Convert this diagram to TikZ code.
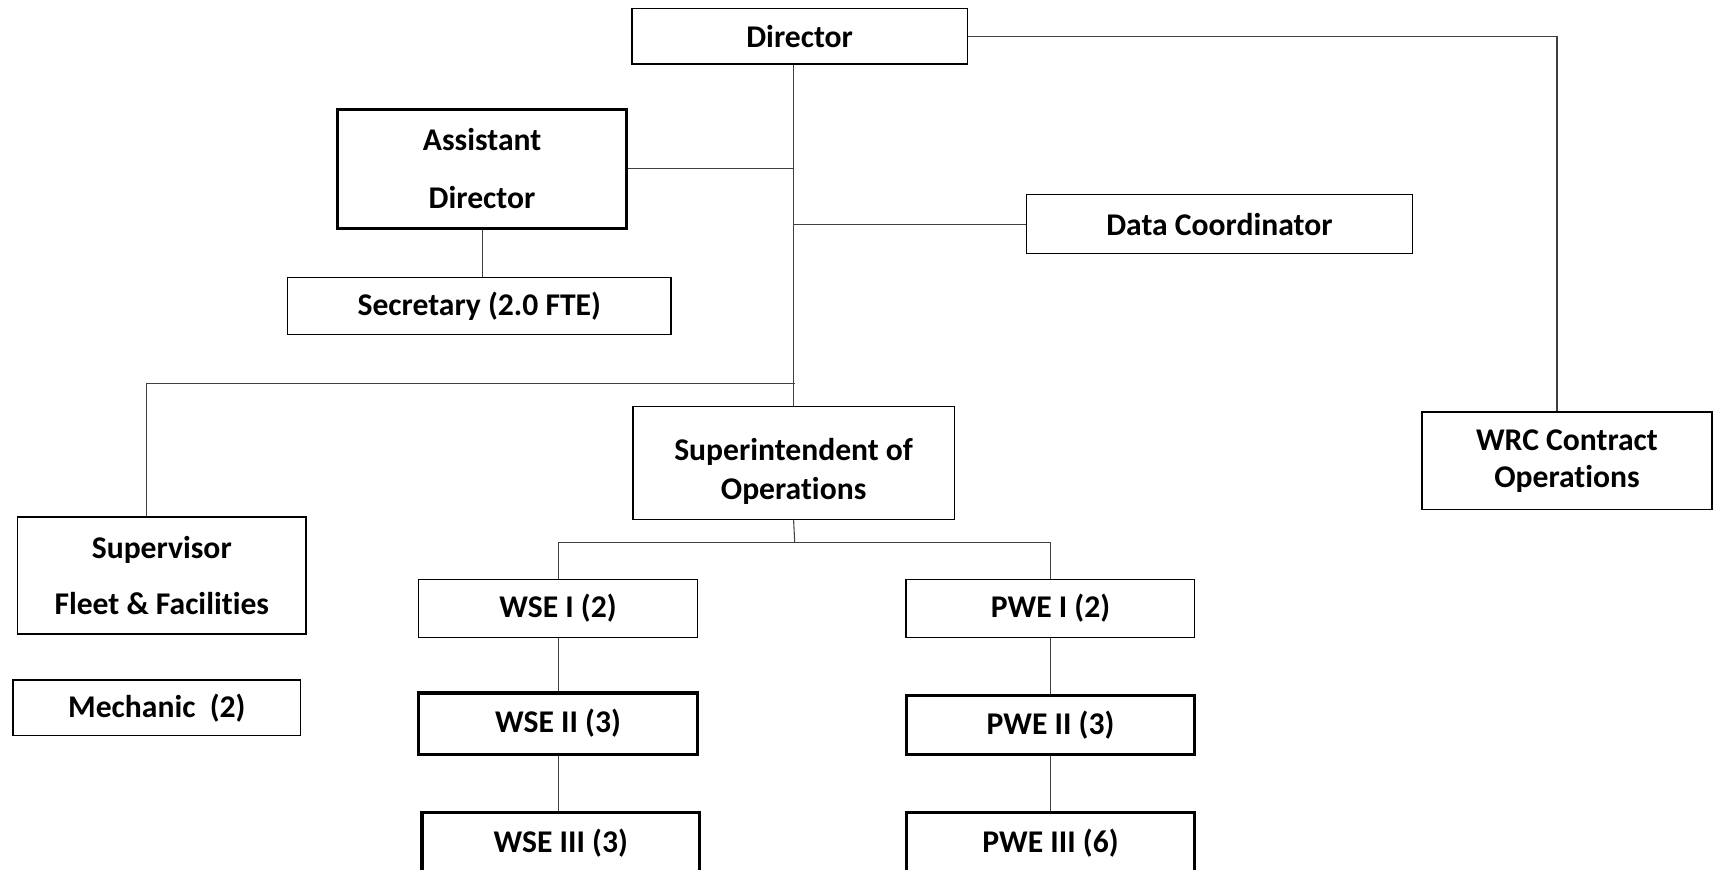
\documentclass[tikz,border=0pt]{standalone}
\usepackage{fontspec}
\setmainfont{Carlito}[Ligatures=NoCommon]
\newcommand\ux{0.021862cm}
\begin{document}
\begin{tikzpicture}[x=0.021862cm,y=-0.021862cm,
  txt/.style={inner sep=0pt, align=center,
    font=\fontsize{18}{22}\selectfont\bfseries},
  box/.style={txt, draw=black, line width=0.8pt},
  thickbox/.style={box, line width=1.8pt},
  sz/.style 2 args={minimum width={#1*\ux}, minimum height={#2*\ux}},
  link/.style={draw=black!75, line width=0.6pt}]
\useasboundingbox (0,0) rectangle (1568,795);
% nodes
\node[box, sz={307}{51}] (dir) at (731.5,33) {Director};
\node[thickbox, sz={264}{109}] (asst) at (441,154.5) {Assistant\\[11pt]Director};
\node[box, sz={351}{52}] (sec) at (438.5,280) {Secretary (2.0 FTE)};
\node[box, sz={353}{54}] (data) at (1115.5,205) {Data Coordinator};
\node[box, sz={294}{103}] (sup) at (726,423.5) {};
\node[txt] (suptxt) at ([yshift=-0.17cm]sup.center) {Superintendent of\\Operations};
\node[box, sz={265}{89}] (wrc) at (1433.5,421.5) {WRC Contract\\[-1pt]Operations};
\node[box, sz={264}{107}] (fleet) at (148,526.5) {Supervisor\\[10pt]Fleet \& Facilities};
\node[box, sz={263}{51}] (mech) at (143.5,647.5) {Mechanic~~(2)};
\node[box, sz={255}{53}] (wse1) at (510.5,556.5) {WSE I (2)};
\node[box, sz={264}{53}] (pwe1) at (961,556.5) {PWE I (2)};
\node[thickbox, sz={255}{56}] (wse2) at (510.5,662) {WSE II (3)};
\node[thickbox, sz={264}{54}] (pwe2) at (961,663) {PWE II (3)};
\node[thickbox, sz={254}{56}] (wse3) at (513,771) {WSE III (3)};
\node[thickbox, sz={264}{56}] (pwe3) at (961,771) {PWE III (6)};
% junctions
\coordinate (b1) at (727,351);
\coordinate (b2) at (727,496);
% connectors
\draw[link] (dir.south -| sup.north) -- (sup.north);
\draw[link] (asst.east) -- (asst.east -| sup.north);
\draw[link] (data.west) -- (data.west -| sup.north);
\draw[link] (asst.south) -- (asst.south |- sec.north);
\draw[link] (b1) -| ([xshift=-0.3cm]fleet.north);
\draw[link] (dir.east) -| ([xshift=-0.2cm]wrc.north);
\draw[link] (sup.south) -- (b2);
\draw[link] (wse1.north) |- (b2) -| (pwe1.north);
\draw[link] (wse1.south) -- (wse2.north);
\draw[link] (wse2.south) -- (wse3.north -| wse2.south);
\draw[link] (pwe1.south) -- (pwe2.north);
\draw[link] (pwe2.south) -- (pwe3.north);
\end{tikzpicture}
\end{document}
